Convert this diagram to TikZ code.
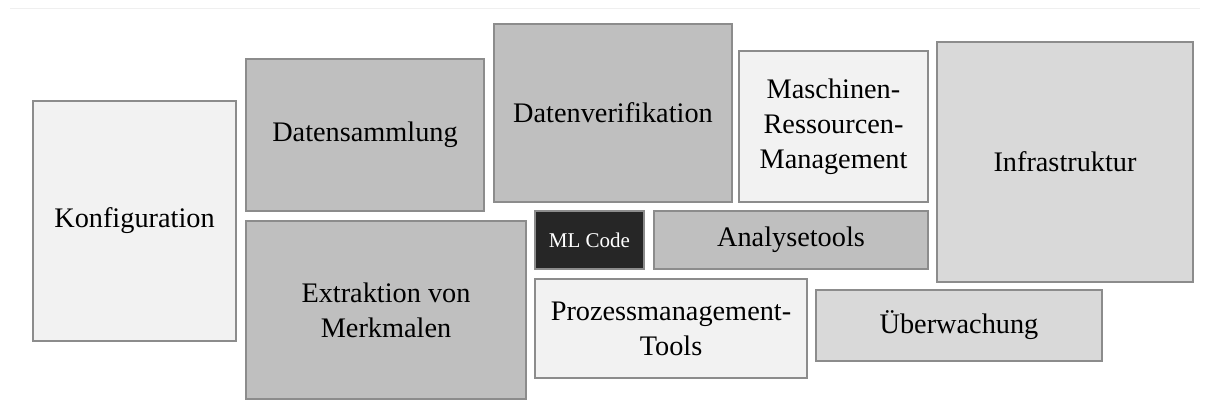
\documentclass[tikz,border=0pt]{standalone}
\usepackage{fontspec}
\setmainfont{Liberation Serif}
\definecolor{lightfill}{HTML}{F2F2F2}
\definecolor{midfill}{HTML}{BFBFBF}
\definecolor{palefill}{HTML}{D9D9D9}
\definecolor{darkfill}{HTML}{262626}
\definecolor{edgegray}{HTML}{8C8C8C}
\definecolor{topline}{HTML}{EFEFEF}
\tikzset{
  tile/.style={draw=edgegray, line width=1.6pt, rectangle, inner sep=0pt, align=center,
    font=\fontsize{28.3}{35}\selectfont, text=black},
  tilelight/.style={tile, fill=lightfill},
  tilemid/.style={tile, fill=midfill},
  tilepale/.style={tile, fill=palefill},
  tiledark/.style={tile, fill=darkfill, text=white, font=\fontsize{21}{24}\selectfont},
}
\begin{document}
\begin{tikzpicture}[x=1pt, y=-1pt]
\useasboundingbox[fill=white] (0,0) rectangle (1209,410);
\coordinate (tl) at (10,8);
\coordinate (tr) at (1200,8);
\draw[topline, line width=1pt] (tl) -- (tr);

\node[tilelight, minimum width=203pt, minimum height=240pt] (konf) at (134.5,221) {Konfiguration};
\node[tilemid, minimum width=238pt, minimum height=152pt] (samm) at (365,135) {Datensammlung};
\node[tilemid, minimum width=280pt, minimum height=178pt] (extr) at (386,310) {Extraktion von\\Merkmalen};
\node[tilemid, minimum width=238pt, minimum height=178pt] (veri) at (613,113) {Datenverifikation};
\node[tiledark, minimum width=109pt, minimum height=58pt] (mlc) at (589.5,240) {ML Code};
\node[tilemid, minimum width=274pt, minimum height=58pt] (anal) at (791,240) {Analysetools};
\node[tilelight, minimum width=272pt, minimum height=99pt] (proz) at (671,328.5) {Prozessmanagement-\\Tools};
\node[tilelight, minimum width=189pt, minimum height=151pt] (masc) at (833.5,126.5) {Maschinen-\\Ressourcen-\\Management};
\node[tilepale, minimum width=256pt, minimum height=240pt] (infr) at (1065,162) {Infrastruktur};
\node[tilepale, minimum width=286pt, minimum height=71pt] (uebe) at (959,325.5) {Überwachung};
\end{tikzpicture}
\end{document}
